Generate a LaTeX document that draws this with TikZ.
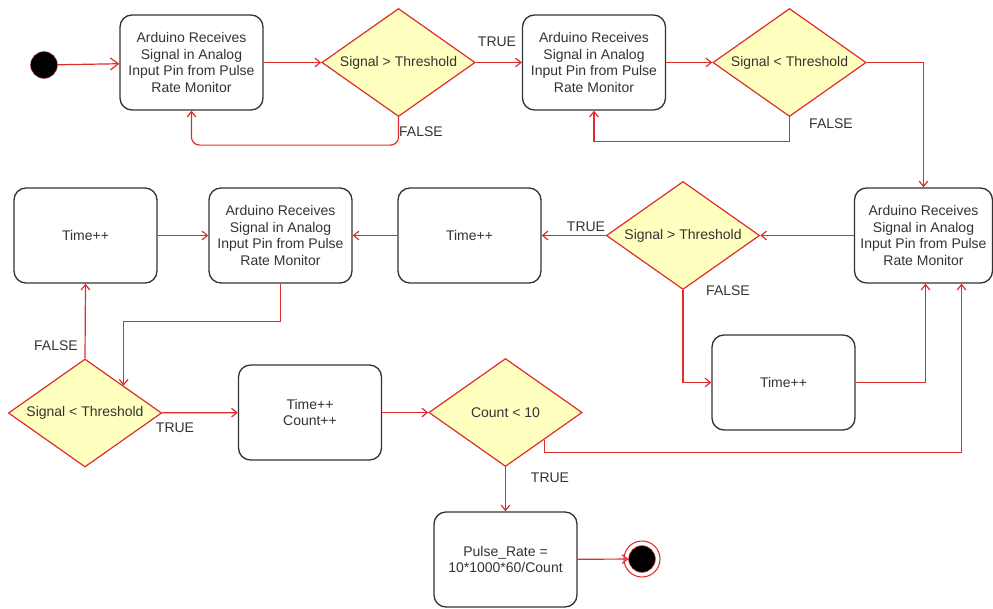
\documentclass[tikz,border=0pt]{standalone}
\usepackage{fontspec}
\setmainfont{Liberation Sans}
\usetikzlibrary{shapes.geometric,arrows.meta}
\definecolor{flowred}{RGB}{222,45,45}
\definecolor{condfill}{RGB}{255,255,192}
\definecolor{boxline}{RGB}{51,51,51}

\begin{document}
\begin{tikzpicture}[x=0.75pt, y=-0.75pt,
    every node/.style={font=\fontsize{10.5}{12.5}\selectfont, text=boxline},
    state/.style={draw=boxline, line width=1pt, rounded corners=9pt, align=center,
        minimum width=107.25pt, minimum height=71.25pt, inner sep=0pt},
    cond/.style={diamond, draw=flowred, fill=condfill, line width=0.9pt, aspect=1.42,
        minimum width=115pt, minimum height=81pt, inner sep=0pt},
    flow/.style={draw=flowred, line width=0.9pt, -{Straight Barb[length=4pt,width=6.5pt]}}]
    \useasboundingbox (0,0) rectangle (993,608);

    \node[circle, fill=black, draw=flowred!70!black, minimum size=20pt, inner sep=0pt] (s) at (44,65) {};
    \node[state] (a1) at (191.5,62.5) {Arduino Receives\\Signal in Analog\\Input Pin from Pulse\\Rate Monitor};
    \node[cond] (d1) at (398.5,62.5) {Signal > Threshold};
    \node[state] (a2) at (594,62.5) {Arduino Receives\\Signal in Analog\\Input Pin from Pulse\\Rate Monitor};
    \node[cond] (d2) at (789.5,62.5) {Signal < Threshold};
    \node[state, minimum width=103.5pt] (a3) at (923.5,235.5) {Arduino Receives\\Signal in Analog\\Input Pin from Pulse\\Rate Monitor};
    \node[cond] (d3) at (683,235.5) {Signal > Threshold};
    \node[state] (t1) at (469.5,235.5) {Time++};
    \node[state] (a4) at (280.5,235.5) {Arduino Receives\\Signal in Analog\\Input Pin from Pulse\\Rate Monitor};
    \node[state] (t2) at (85.5,235.5) {Time++};
    \node[cond] (d4) at (85,413) {Signal < Threshold};
    \node[state] (c1) at (310,412.5) {Time++\\Count++};
    \node[cond] (d5) at (505.5,412.5) {Count < 10};
    \node[state] (t3) at (783.5,382.5) {Time++};
    \node[state] (p) at (505.5,559.5) {Pulse\_Rate =\\10*1000*60/Count};
    \node[circle, fill=black, draw=flowred, minimum size=20pt, inner sep=0pt] (e) at (642,559) {};
    \draw[flowred, line width=0.8pt] (e) circle (13.5pt);

    \draw[flow, -{Straight Barb[length=6pt,width=9pt]}] (s) -- (a1);
    \draw[flow] (a1) -- (d1);
    \draw[flow] (d1) -- (a2);
    \draw[flow, rounded corners=6pt] (d1.south) -- ++(0,28) -| (a1.south);
    \draw[flow] (a2) -- (d2);
    \draw[flow] (d2.south) -- ++(0,24) -| (a2.south);
    \draw[flow] (d2.east) -| (a3.north);
    \draw[flow] (a3) -- (d3);
    \draw[flow] (d3) -- (t1);
    \draw[flow] (t1) -- (a4);
    \draw[flow] (t2) -- (a4);
    \draw[flow] (a4.south) -- ++(0,38) -| (d4.north east);
    \draw[flow] (d4.north) -- (t2.south);
    \draw[flow] (d4) -- (c1);
    \draw[flow] (c1) -- (d5);
    \draw[flow] (d5.south) -- (p.north);
    \draw[flow] (p) -- (e);
    \draw[flow] (d3.south) |- (t3.west);
    \draw[flow] (t3.east) -| ([xshift=1.5pt]a3.south);
    \draw[flow] (d5.south east) -- ++(0,13) -| ([xshift=28.5pt]a3.south);

    \node (l1) at (497,42) {TRUE};
    \node (l2) at (421,132) {FALSE};
    \node (l3) at (831,124) {FALSE};
    \node (l4) at (586,227) {TRUE};
    \node (l5) at (728,291) {FALSE};
    \node (l6) at (56,346) {FALSE};
    \node (l7) at (175,428) {TRUE};
    \node (l8) at (550,478) {TRUE};
\end{tikzpicture}
\end{document}
